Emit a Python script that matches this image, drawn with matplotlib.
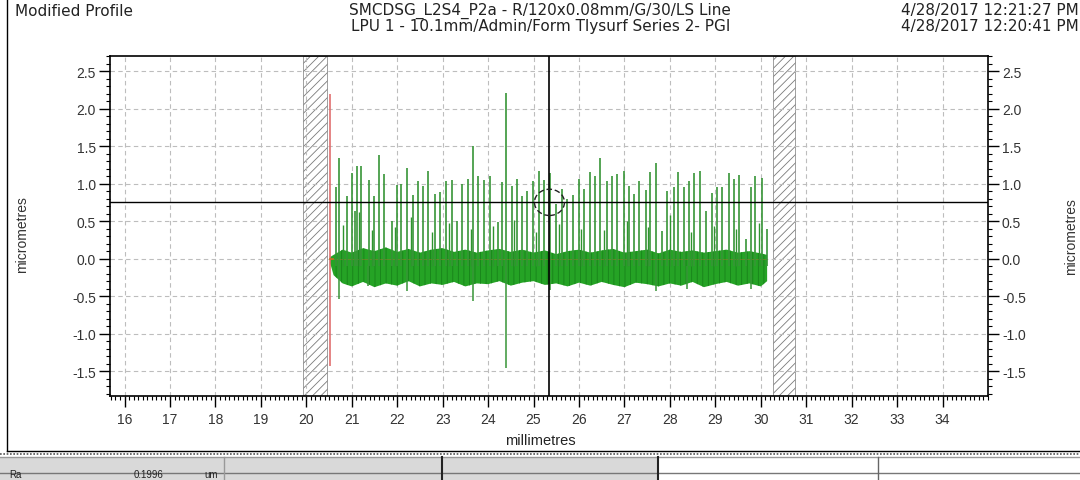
import matplotlib
matplotlib.use("Agg")
import matplotlib.pyplot as plt
from matplotlib.lines import Line2D
from matplotlib.patches import Ellipse, Rectangle
from matplotlib.ticker import MultipleLocator, FormatStrFormatter

plt.rcParams['font.family'] = ['Liberation Sans', 'DejaVu Sans']
plt.rcParams['axes.unicode_minus'] = False
plt.rcParams['hatch.linewidth'] = 0.6

# profile (mm, micrometres)
spike_x = [20.65, 20.72, 20.89, 21.01, 21.07, 21.12, 21.20, 21.38, 21.49, 21.59,
           21.71, 21.88, 22.00, 22.08, 22.21, 22.35, 22.46, 22.57, 22.68, 22.83,
           22.94, 23.07, 23.20, 23.31, 23.43, 23.55, 23.67, 23.77, 23.91, 24.04,
           24.21, 24.30, 24.40, 24.52, 24.64, 24.74, 24.86, 24.99, 25.12, 25.24,
           25.36, 25.49, 25.62, 25.74, 25.86, 25.99, 26.11, 26.24, 26.35, 26.46,
           26.61, 26.72, 26.84, 26.98, 27.10, 27.21, 27.33, 27.47, 27.57, 27.69,
           27.82, 27.94, 28.08, 28.17, 28.32, 28.43, 28.52, 28.66, 28.79, 28.93,
           29.03, 29.15, 29.29, 29.41, 29.51, 29.67, 29.78, 29.87, 30.02, 30.14]
spike_top = [0.95, 1.34, 0.83, 1.14, 0.64, 1.23, 1.23, 1.05, 0.84, 1.38,
             1.13, 0.50, 0.98, 0.99, 1.21, 0.85, 1.04, 0.97, 1.17, 0.86,
             0.89, 1.03, 1.05, 0.50, 0.99, 1.06, 1.50, 1.10, 1.05, 1.10,
             0.49, 1.02, 2.21, 0.97, 1.06, 0.84, 0.90, 1.04, 1.17, 1.05,
             1.14, 0.73, 0.93, 0.79, 0.85, 1.06, 0.93, 1.16, 1.10, 1.34,
             1.04, 1.10, 1.13, 1.17, 0.97, 0.86, 1.04, 0.92, 1.16, 1.27,
             0.37, 0.90, 0.95, 1.16, 0.95, 1.04, 1.14, 1.17, 0.64, 0.88,
             0.96, 0.95, 1.14, 1.06, 1.12, 0.26, 0.95, 1.10, 1.07, 0.39]
# shorter secondary peaks next to the main ones
minor_x = [20.80, 21.16, 21.45, 21.95, 22.30, 22.77, 23.13, 23.62, 24.10, 24.58,
           25.05, 25.55, 26.05, 26.55, 27.05, 27.52, 28.00, 28.46, 28.98, 29.46, 29.95]
minor_top = [0.45, 0.62, 0.38, 0.42, 0.55, 0.35, 0.48, 0.40, 0.44, 0.52,
             0.36, 0.46, 0.40, 0.38, 0.50, 0.42, 0.58, 0.36, 0.44, 0.40, 0.48]
dip_x = [20.72, 21.35, 22.21, 23.67, 24.40, 25.36, 27.69, 28.37, 29.78]
dip_bottom = [-0.54, -0.36, -0.43, -0.57, -1.46, -0.42, -0.43, -0.41, -0.41]

band_x = [20.52, 20.6, 20.8, 21.0, 21.25, 21.5, 21.75, 22.0, 22.25, 22.5, 22.75, 23.0,
          23.25, 23.5, 23.75, 24.0, 24.25, 24.5, 24.75, 25.0, 25.25, 25.5, 25.75, 26.0,
          26.25, 26.5, 26.75, 27.0, 27.25, 27.5, 27.75, 28.0, 28.25, 28.5, 28.75, 29.0,
          29.25, 29.5, 29.75, 30.0, 30.14]
band_hi = [0.02, 0.05, 0.12, 0.08, 0.14, 0.10, 0.15, 0.09, 0.13, 0.08, 0.12, 0.14,
           0.09, 0.12, 0.08, 0.11, 0.13, 0.09, 0.12, 0.08, 0.11, 0.06, 0.10, 0.12,
           0.08, 0.11, 0.13, 0.08, 0.10, 0.12, 0.07, 0.12, 0.09, 0.11, 0.08, 0.10,
           0.12, 0.08, 0.10, 0.07, 0.05]
band_lo = [-0.05, -0.22, -0.33, -0.37, -0.31, -0.38, -0.33, -0.36, -0.30, -0.37, -0.33, -0.35,
           -0.31, -0.37, -0.33, -0.34, -0.30, -0.36, -0.32, -0.30, -0.35, -0.33, -0.37, -0.32,
           -0.36, -0.31, -0.35, -0.38, -0.32, -0.34, -0.37, -0.33, -0.36, -0.31, -0.38, -0.34,
           -0.31, -0.36, -0.33, -0.37, -0.30]

ref_line_x = 20.515
ref_line_y = (-1.43, 2.19)
excluded = [(19.92, 20.45), (30.27, 30.75)]
cursor = (25.35, 0.75)

x_ticks = list(range(16, 35))
y_ticks = [-1.5, -1.0, -0.5, 0.0, 0.5, 1.0, 1.5, 2.0, 2.5]

W, H = 1080, 481


def fx(px):
    return px / W


def fy(py):
    return 1 - py / H


fig = plt.figure(figsize=(W / 100, H / 100), dpi=100)
ax = fig.add_axes([fx(110), fy(397), fx(988) - fx(110), fy(57) - fy(397)])

ax.set_xlim(15.68, 35.0)
ax.set_ylim(-1.83, 2.7)

for a, b in excluded:
    ax.axvspan(a, b, facecolor='none', edgecolor='#7a7a7a', hatch='////', lw=0.5, zorder=1)

ax.fill_between(band_x, band_lo, band_hi, facecolor='#25a325', edgecolor='#17821a', hatch='|||',
                lw=0, zorder=3)
ax.plot([band_x[0], band_x[-1]], [0, 0], color='#b07030', lw=0.6, alpha=0.5, zorder=3)
ax.vlines(minor_x, -0.1, minor_top, color='#2f942f', lw=1.0, zorder=3)
ax.vlines(spike_x, -0.1, spike_top, color='#379537', lw=1.2, zorder=3)
ax.vlines(dip_x, -0.1, dip_bottom, color='#379537', lw=1.1, zorder=3)
ax.vlines(ref_line_x, ref_line_y[0], ref_line_y[1], color='#e07070', lw=1.2, zorder=4)
ax.plot([ref_line_x, ref_line_x + 0.08], [0.0, 0.0], color='#c87020', lw=1.2, zorder=4)

ax.axhline(cursor[1], color='black', lw=1, zorder=5)
ax.axvline(cursor[0], color='black', lw=1.2, zorder=5)
ax.add_patch(Ellipse(cursor, 0.66, 0.35, facecolor='none', edgecolor='#222222',
                     lw=1, ls=(0, (4, 2)), zorder=5))

ax.set_xticks(x_ticks)
ax.set_yticks(y_ticks)
ax.xaxis.set_minor_locator(MultipleLocator(0.1))
ax.yaxis.set_minor_locator(MultipleLocator(0.1))
ax.yaxis.set_major_formatter(FormatStrFormatter('%.1f'))
ax.tick_params(axis='both', which='major', length=8, width=1, labelsize=10, labelcolor='#333333')
ax.tick_params(axis='both', which='minor', length=3, width=0.8)
ax.tick_params(axis='y', which='both', left=True, right=True, labelleft=True, labelright=True)
ax.tick_params(axis='y', which='major', pad=2)
ax.grid(True, which='major', ls=(0, (4, 3)), color='#bdbdbd', lw=0.8, zorder=0)
for s in ax.spines.values():
    s.set_linewidth(1.2)

fig.text(fx(540), fy(441), 'millimetres', ha='center', va='center', fontsize=10.5, color='#222222')
fig.text(fx(22), fy(235), 'micrometres', ha='center', va='center', rotation=90, fontsize=10, color='#333333')
fig.text(fx(1071), fy(237), 'micrometres', ha='center', va='center', rotation=90, fontsize=10, color='#333333')

head = dict(va='center', fontsize=11, color='#222222', family=['DejaVu Sans'])
fig.text(fx(15), fy(12), 'Modified Profile', ha='left', **head)
fig.text(fx(540), fy(11), 'SMCDSG_L2S4_P2a - R/120x0.08mm/G/30/LS Line', ha='center', **head)
fig.text(fx(541), fy(26), 'LPU 1 - 10.1mm/Admin/Form Tlysurf Series 2- PGI', ha='center', **head)
fig.text(fx(1079), fy(11), '4/28/2017 12:21:27 PM', ha='right', **head)
fig.text(fx(1079), fy(26), '4/28/2017 12:20:41 PM', ha='right', **head)

# frame and results table below the plot
fig.add_artist(Line2D([fx(7), fx(7)], [fy(0), fy(452)], color='black', lw=1, transform=fig.transFigure))
fig.add_artist(Line2D([fx(7), fx(1080)], [fy(452), fy(452)], color='black', lw=1, transform=fig.transFigure))
fig.add_artist(Line2D([0, 1], [fy(455), fy(455)], color='#555555', lw=1.2, ls=(0, (1, 1)),
                      transform=fig.transFigure))
fig.add_artist(Rectangle((0, fy(481)), fx(658), fy(458) - fy(481), facecolor='#d9d9d9', edgecolor='none',
                         transform=fig.transFigure))
fig.add_artist(Line2D([0, 1], [fy(458), fy(458)], color='#999999', lw=1, transform=fig.transFigure))
fig.add_artist(Line2D([0, 1], [fy(473.5), fy(473.5)], color='#777777', lw=1, transform=fig.transFigure))
for px, c, lw in [(224, '#999999', 1), (442, '#222222', 1.5), (658, '#222222', 1.5), (878, '#666666', 1)]:
    fig.add_artist(Line2D([fx(px), fx(px)], [fy(458), fy(481)], color=c, lw=lw, transform=fig.transFigure))
cell = dict(va='bottom', fontsize=7, color='#222222')
fig.text(fx(9), fy(480.5), 'Ra', ha='left', **cell)
fig.text(fx(164), fy(480.5), '0.1996', ha='right', **cell)
fig.text(fx(204), fy(480.5), 'um', ha='left', **cell)

fig.savefig('out.png', dpi=100)
